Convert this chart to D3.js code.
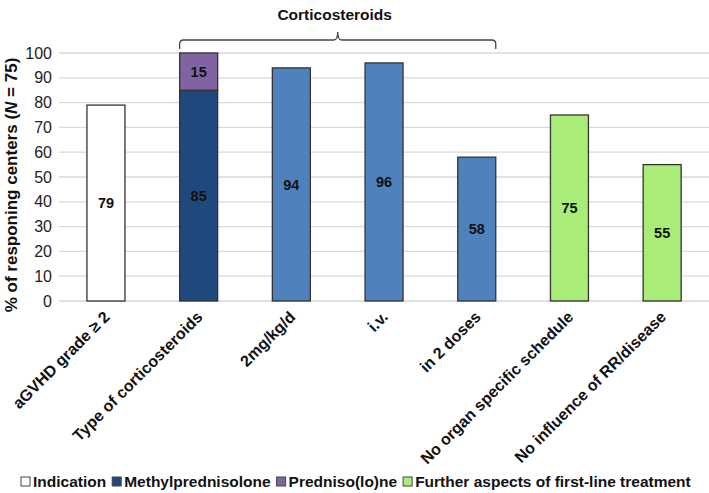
<!DOCTYPE html>
<html><head><meta charset="utf-8">
<script src="https://cdn.jsdelivr.net/npm/d3@7"></script>
<style>body{margin:0;background:#fff;} svg{display:block;font-family:"Liberation Sans",Arial,sans-serif;}</style>
</head><body>
<svg id="c" width="709" height="493"></svg>
<script>
const categories = ["aGVHD grade \u2265 2","Type of corticosteroids","2mg/kg/d","i.v.","in 2 doses","No organ specific schedule","No influence of RR/disease"];
const baseValues = [79,85,94,96,58,75,55];
const stackValues = [0,15,0,0,0,0,0];
const barColors = ["#ffffff","#1f497d","#4f81bd","#4f81bd","#4f81bd","#a9ec78","#a9ec78"];
const stackColor = "#8064a2";
const yTicks = [0,10,20,30,40,50,60,70,80,90,100];
const legendItems = [
  {label:"Indication", color:"#ffffff"},
  {label:"Methylprednisolone", color:"#1f497d"},
  {label:"Predniso(lo)ne", color:"#8064a2"},
  {label:"Further aspects of first-line treatment", color:"#a9ec78"}
];
const braceTitle = "Corticosteroids";
const braceFrom = 1, braceTo = 4;

const svg = d3.select("#c");
const x = d3.scaleBand().domain(categories).range([59.6, 708.5]).paddingInner(0.59).paddingOuter(0.295);
const y = d3.scaleLinear().domain([0,100]).range([301,53]);

// gridlines
svg.append("g").selectAll("line").data(yTicks).join("line")
  .attr("x1",59).attr("x2",709).attr("y1",d=>y(d)).attr("y2",d=>y(d))
  .attr("stroke","#d9d9d9").attr("stroke-width",1.3);

// y tick labels
svg.append("g").selectAll("text").data(yTicks).join("text")
  .attr("x",52).attr("y",d=>y(d)).attr("dy","0.35em").attr("text-anchor","end")
  .attr("font-size",16).attr("fill","#222").text(d=>d);

// y title
const yt = svg.append("text").attr("transform","translate(17,185) rotate(-90)")
  .attr("text-anchor","middle").attr("font-size",17).attr("font-weight","bold").attr("fill","#111");
yt.append("tspan").text("% of responing centers (");
yt.append("tspan").attr("font-style","italic").text("N");
yt.append("tspan").text(" = 75)");

// bars
const bw = x.bandwidth();
svg.append("g").selectAll("rect").data(categories).join("rect")
  .attr("x",d=>x(d)).attr("width",bw)
  .attr("y",(d,i)=>y(baseValues[i])).attr("height",(d,i)=>y(0)-y(baseValues[i]))
  .attr("fill",(d,i)=>barColors[i]).attr("stroke","#333").attr("stroke-width",1.3);
svg.append("g").selectAll("rect").data(categories.filter((d,i)=>stackValues[i]>0)).join("rect")
  .attr("x",d=>x(d)).attr("width",bw)
  .attr("y",d=>{const i=categories.indexOf(d);return y(baseValues[i]+stackValues[i]);})
  .attr("height",d=>{const i=categories.indexOf(d);return y(baseValues[i])-y(baseValues[i]+stackValues[i]);})
  .attr("fill",stackColor).attr("stroke","#333").attr("stroke-width",1.3);

// value labels
svg.append("g").selectAll("text").data(categories).join("text")
  .attr("x",d=>x(d)+bw/2).attr("y",(d,i)=>y(baseValues[i]/2)).attr("dy","0.35em")
  .attr("text-anchor","middle").attr("font-size",14.5).attr("font-weight","bold").attr("fill","#111")
  .text((d,i)=>baseValues[i]);
svg.append("g").selectAll("text").data(categories.filter((d,i)=>stackValues[i]>0)).join("text")
  .attr("x",d=>x(d)+bw/2)
  .attr("y",d=>{const i=categories.indexOf(d);return y(baseValues[i]+stackValues[i]/2);}).attr("dy","0.35em")
  .attr("text-anchor","middle").attr("font-size",14.5).attr("font-weight","bold").attr("fill","#111")
  .text(d=>stackValues[categories.indexOf(d)]);

// x labels
svg.append("g").selectAll("text").data(categories).join("text")
  .attr("transform",d=>`translate(${x(d)+bw/2+1},${314}) rotate(-45)`)
  .attr("text-anchor","end").attr("dy","0.35em")
  .attr("font-size",16).attr("font-weight","bold").attr("fill","#111").text(d=>d);

// brace
const bx1 = x(categories[braceFrom]), bx2 = x(categories[braceTo]) + bw;
const bmid = (bx1+bx2)/2;
const by = 40, r = 4;
svg.append("path")
  .attr("d",`M${bx1},${by+9} L${bx1},${by+r} Q${bx1},${by} ${bx1+r},${by} L${bmid-4},${by} Q${bmid},${by} ${bmid},${by-8} Q${bmid},${by} ${bmid+4},${by} L${bx2-r},${by} Q${bx2},${by} ${bx2},${by+r} L${bx2},${by+9}`)
  .attr("fill","none").attr("stroke","#444").attr("stroke-width",1.3);
svg.append("text").attr("x",bmid-3).attr("y",15).attr("dy","0.35em").attr("text-anchor","middle")
  .attr("font-size",15.5).attr("font-weight","bold").attr("fill","#111").text(braceTitle);

// legend
const lg = svg.append("g").attr("transform","translate(21,482)");
let lx = 0;
legendItems.forEach(it=>{
  const g = lg.append("g").attr("transform",`translate(${lx},0)`);
  g.append("rect").attr("x",0).attr("y",-5).attr("width",9).attr("height",9)
    .attr("fill",it.color).attr("stroke","#444").attr("stroke-width",1);
  const t = g.append("text").attr("x",12).attr("y",0).attr("dy","0.35em")
    .attr("font-size",15.5).attr("font-weight","bold").attr("fill","#111").text(it.label);
  lx += 12 + t.node().getComputedTextLength() + 6;
});
</script>
</body></html>
